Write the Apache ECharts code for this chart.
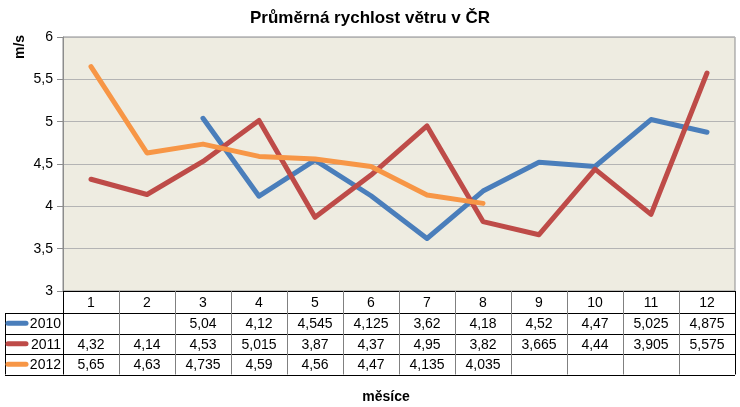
<!DOCTYPE html>
<html><head><meta charset="utf-8">
<script src="https://cdn.jsdelivr.net/npm/echarts@6/dist/echarts.min.js"></script>
<style>html,body{margin:0;padding:0;background:#fff}#c{width:740px;height:407px}</style>
</head><body><div id="c"></div>
<script>
const months = ['1','2','3','4','5','6','7','8','9','10','11','12'];
const years = ['2010','2011','2012'];
const v2010 = [null,null,5.04,4.12,4.545,4.125,3.62,4.18,4.52,4.47,5.025,4.875];
const v2011 = [4.32,4.14,4.53,5.015,3.87,4.37,4.95,3.82,3.665,4.44,3.905,5.575];
const v2012 = [5.65,4.63,4.735,4.59,4.56,4.47,4.135,4.035,null,null,null,null];
const yMin = 3, yMax = 6, yStep = 0.5;
const colors = ['#4A7EBB','#BE4B48','#F79646'];
const rows = [v2010, v2011, v2012];
const fmt = v => v == null ? '' : String(v).replace('.', ',');
const FONT = 'Liberation Sans, Arial, sans-serif';

const chart = echarts.init(document.getElementById('c'), null, {renderer: 'canvas'});
const gridL = 63, gridR = 5, gridT = 37, gridB = 116;
chart.setOption({
  animation: false,
  title: {text: 'Průměrná rychlost větru v ČR', left: 'center', top: 5,
    textStyle: {fontFamily: FONT, fontSize: 17, fontWeight: 'bold', color: '#000'}},
  grid: {left: gridL, right: gridR, top: gridT, bottom: gridB, show: true,
    backgroundColor: '#EEECE1', borderColor: '#8C8C8C', borderWidth: 1},
  xAxis: {type: 'category', data: months, boundaryGap: true,
    axisLine: {show: false}, axisTick: {show: false}, axisLabel: {show: false}, splitLine: {show: false}},
  yAxis: {type: 'value', min: yMin, max: yMax, interval: yStep,
    axisLine: {show: true, lineStyle: {color: '#8C8C8C'}},
    axisTick: {show: true, length: 6, lineStyle: {color: '#8C8C8C'}},
    axisLabel: {fontFamily: FONT, fontSize: 14, color: '#000', margin: 10, formatter: v => fmt(v)},
    splitLine: {show: true, lineStyle: {color: '#B4B4B4', width: 1}}},
  series: rows.map((d, i) => ({
    name: years[i], type: 'line', data: d, symbol: 'none', connectNulls: false,
    lineStyle: {color: colors[i], width: 5, cap: 'round', join: 'round'},
    itemStyle: {color: colors[i]}, z: 2 + i
  }))
});

// Build data table under the plot
function buildTable() {
  const els = [];
  const top = 407 - gridB;           // top of table
  const headH = 22, rowH = 20.5;
  const left = gridL, right = 740 - gridR;
  const colW = (right - left) / months.length;
  const labelL = 5;
  const bottom = top + headH + rowH * rows.length;
  const line = (x1, y1, x2, y2, c) => els.push({type: 'line', shape: {x1, y1, x2, y2},
    style: {stroke: c, lineWidth: 1}, z: 10});
  line(left, top + 0.5, right, top + 0.5, '#000');
  for (let r = 0; r <= rows.length; r++) {
    const y = Math.round(top + headH + rowH * r) + 0.5;
    line(labelL, y, right, y, '#000');
  }
  for (let c = 0; c <= months.length; c++) {
    const x = Math.round(left + colW * c) + 0.5;
    line(x, top, x, bottom, (c === 0 || c === months.length) ? '#000' : '#808080');
  }
  line(labelL + 0.5, top + headH, labelL + 0.5, bottom, '#000');
  months.forEach((m, i) => {
    const cx = chart.convertToPixel({xAxisIndex: 0}, i);
    els.push({type: 'text', x: cx, y: top + headH / 2 + 1, z: 11,
      style: {text: m, fill: '#000', font: '14px ' + FONT, align: 'center', verticalAlign: 'middle'}});
    rows.forEach((d, r) => {
      els.push({type: 'text', x: cx, y: top + headH + rowH * r + rowH / 2 + 1, z: 11,
        style: {text: fmt(d[i]), fill: '#000', font: '14px ' + FONT, align: 'center', verticalAlign: 'middle'}});
    });
  });
  years.forEach((y, r) => {
    const cy = top + headH + rowH * r + rowH / 2;
    els.push({type: 'line', shape: {x1: 8, y1: cy, x2: 26, y2: cy}, z: 11,
      style: {stroke: colors[r], lineWidth: 5, lineCap: 'round'}});
    els.push({type: 'text', x: left - 2, y: cy + 1, z: 11,
      style: {text: y, fill: '#000', font: '14px ' + FONT, align: 'right', verticalAlign: 'middle'}});
  });
  // axis names
  els.push({type: 'text', x: 20, y: 47, rotation: Math.PI / 2, z: 11,
    style: {text: 'm/s', fill: '#000', font: 'bold 14px ' + FONT, align: 'center', verticalAlign: 'middle'}});
  els.push({type: 'text', x: 386, y: 397, z: 11,
    style: {text: 'měsíce', fill: '#000', font: 'bold 14px ' + FONT, align: 'center', verticalAlign: 'middle'}});
  chart.setOption({graphic: {elements: els}});
}
buildTable();
</script></body></html>
